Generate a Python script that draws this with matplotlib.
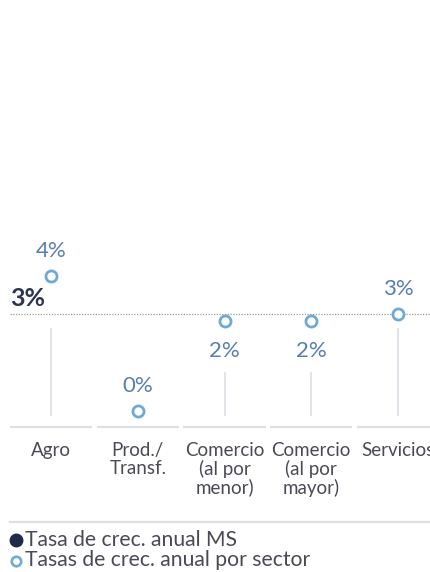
import matplotlib.pyplot as plt
from matplotlib.lines import Line2D

# Growth rates by sector (%), plus the overall annual rate (MS)
sectors = ['Agro', 'Prod./\nTransf.', 'Comercio\n(al por\nmenor)', 'Comercio\n(al por\nmayor)', 'Servicios']
sector_rates = [3.5, 0.5, 2.5, 2.5, 2.65]
ms_rate = 2.65

plt.rcParams['font.family'] = ['Lato', 'DejaVu Sans']

label_blue = '#587db3'
point_blue = '#6fa9d6'
navy = '#1e2a4c'
text_grey = '#4a4a55'
rule_grey = '#dde1e6'

W, H = 431, 572
fig = plt.figure(figsize=(W / 100, H / 100), dpi=100)

# axes runs from pixel row 200 down to the baseline at row 427
ax = fig.add_axes([0, (H - 427) / H, 1, 227 / H])
ax.set_xlim(-0.588, 4.38)
ax.set_ylim(0.145, 5.178)
ax.axis('off')

x = list(range(len(sectors)))

# dotted reference line for the overall rate
ax.plot([-0.47, 4.38], [ms_rate, ms_rate], ls=(0, (1, 1.2)), color='#9a9a9a', lw=0.9, zorder=1)
ax.annotate(f'{ms_rate:.0f}%', (-0.475, ms_rate), xytext=(0, 11.5), textcoords='offset points',
            ha='left', va='center', fontsize=18, fontweight='bold', color='#2b3452')

# baseline segments under each category
xt = ax.get_xaxis_transform()
for i in x:
    ax.plot([i - 0.473, i + 0.473], [0, 0], transform=xt, color=rule_grey, lw=1.6,
            clip_on=False, solid_capstyle='butt')

for i, v in enumerate(sector_rates):
    above = v >= ms_rate or v < 1
    # light stems down to the baseline
    if v >= 1:
        top = min(v, ms_rate) - 0.33 if above else v - 1.15
        ax.plot([i, i], [0.41, top], color=rule_grey, lw=1.3, zorder=1)
    ax.plot(i, v, 'o', ms=8, mfc='white', mec=point_blue, mew=2, zorder=3)
    ax.annotate(f'{v:.0f}%', (i, v), xytext=(0, 18 if above else -22), textcoords='offset points',
                ha='center', va='center', fontsize=16, color=label_blue)

# category names
for i, name in enumerate(sectors):
    ax.text(i, -0.065, name, transform=xt, ha='center', va='top', fontsize=13.5,
            color=text_grey, linespacing=1.06)

# separator and legend
fig.add_artist(Line2D([10 / W, 1], [1 - 522 / H, 1 - 522 / H], color=rule_grey, lw=1.6))
fig.add_artist(Line2D([16 / W], [1 - 540 / H], marker='o', ms=9, mfc=navy, mec=navy, ls='none'))
fig.add_artist(Line2D([16 / W], [1 - 561 / H], marker='o', ms=6.8, mfc='white', mec=point_blue,
                      mew=1.9, ls='none'))
fig.text(25 / W, 1 - 540 / H, 'Tasa de crec. anual MS', ha='left', va='center', fontsize=15.2,
         color=text_grey)
fig.text(25 / W, 1 - 560 / H, 'Tasas de crec. anual por sector', ha='left', va='center',
         fontsize=15.2, color=text_grey)

fig.savefig('out.png', dpi=100)
